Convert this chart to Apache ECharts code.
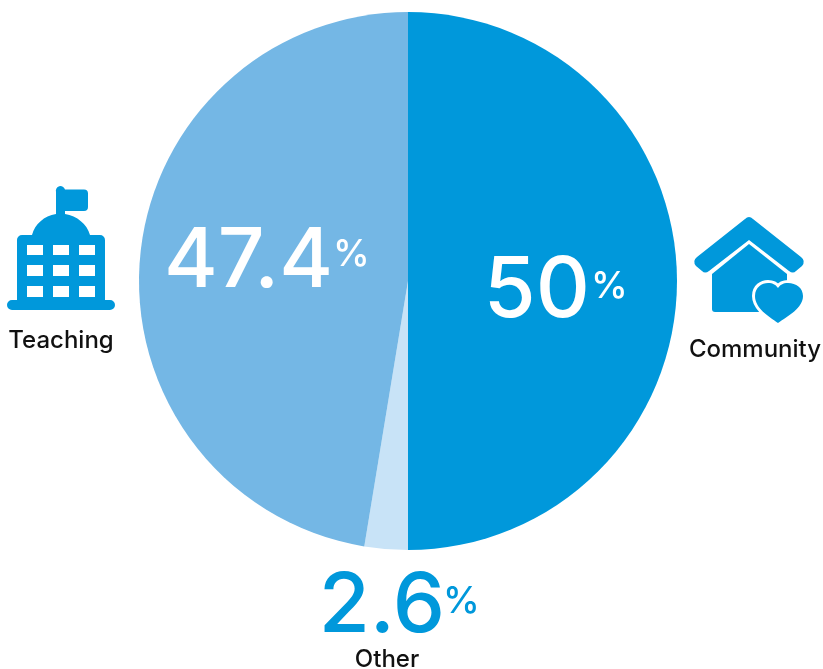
<!DOCTYPE html>
<html>
<head>
<meta charset="utf-8">
<style>html,body{margin:0;padding:0;background:#fff}#c{width:823px;height:669px}</style>
<script src="https://cdn.jsdelivr.net/npm/echarts@6/dist/echarts.min.js"></script>
</head>
<body>
<div id="c"></div>
<script>
// Share of time by activity
const categories = ['Community', 'Other', 'Teaching'];
const shares = [50, 2.6, 47.4];
const sliceColors = ['#0098db', '#c8e3f7', '#74b7e5'];
const BLUE = '#0098db';
const FONT = 'Inter, "Noto Sans", sans-serif';

// Percentage callouts: [category index, number right edge, vertical centre, colour, size, % x, % y]
const callouts = [
  [0, 590, 292, '#ffffff', 84, 591, 287],
  [2, 333, 262, '#ffffff', 82, 333, 255],
  [1, 445, 607, BLUE, 83, 443, 602]
];
// Category captions: [category index, centre x, centre y]
const captions = [[0, 755, 350], [2, 61, 341], [1, 387, 660]];

const buildingPath =
  'M7 305a5 5 0 0 1 5-5h5V240a5 5 0 0 1 5-5h10C35 224 44 216 56 214V192a4.500 4.500 0 0 1 9-2.500' +
  'H84a4 4 0 0 1 4 4V207a4 4 0 0 1-4 4H65v3C77 216 87 224 90 235h10a5 5 0 0 1 5 5v60h5a5 5 0 0 1 0 10H12a5 5 0 0 1-5-5Z' +
  'M27 245v10h16v-10ZM53 245v10h16v-10ZM79 245v10h16v-10Z' +
  'M27 265v11h16v-11ZM53 265v11h16v-11ZM79 265v11h16v-11Z' +
  'M27 286v11h16v-11ZM53 286v11h16v-11ZM79 286v11h16v-11Z';
const roofPath =
  'M749 217Q751 217 753 219L801 257Q806 261 802 266L796 271Q793 274 789 271L749 240L709 271Q705 274 702 271L696 266Q692 261 697 257L745 219Q747 217 749 217Z';
const housePath = 'M749 244L787 274V312H715Q712 312 712 309V274Z';
const heartPath =
  'M778 323C768 316 755 308 755 296C755 287 762 283 768 283C773 283 776 285 778 288C780 285 783 283 788 283C796 283 803 288 803 296C803 308 788 316 778 323Z';

const textEls = [];
callouts.forEach(([i, x, y, fill, size, px, py]) => {
  textEls.push({
    type: 'text', silent: true, z: 100,
    style: { text: String(shares[i]), x, y, fill, font: `500 ${size}px ${FONT}`,
      textAlign: 'right', textVerticalAlign: 'middle' }
  });
  textEls.push({
    type: 'text', silent: true, z: 100,
    style: { text: '%', x: px, y: py, fill, font: `500 37px ${FONT}`,
      textAlign: 'left', textVerticalAlign: 'middle' }
  });
});
captions.forEach(([i, x, y]) => {
  textEls.push({
    type: 'text', silent: true, z: 100,
    style: { text: categories[i], x, y, fill: '#111111', font: `500 24px ${FONT}`,
      textAlign: 'center', textVerticalAlign: 'middle' }
  });
});

// Pictograms beside the pie, drawn in page pixels
const iconChildren = [
  { type: 'path', shape: { pathData: buildingPath }, style: { fill: BLUE } },
  { type: 'path', shape: { pathData: housePath }, style: { fill: BLUE } },
  { type: 'path', shape: { pathData: roofPath }, style: { fill: BLUE } },
  { type: 'path', shape: { pathData: heartPath },
    style: { fill: '#ffffff', stroke: '#ffffff', lineWidth: 6 } },
  { type: 'path', shape: { pathData: heartPath }, style: { fill: BLUE } }
];

const chart = echarts.init(document.getElementById('c'), null, { renderer: 'canvas' });
chart.setOption({
  animation: false,
  series: [{
    type: 'pie',
    center: [408, 281],
    radius: [0, 269],
    startAngle: 90,
    clockwise: true,
    silent: true,
    label: { show: false },
    labelLine: { show: false },
    data: categories.map((name, i) => ({
      name, value: shares[i], itemStyle: { color: sliceColors[i] }
    }))
  }, {
    type: 'custom',
    coordinateSystem: 'none',
    silent: true,
    data: [0],
    renderItem: () => ({ type: 'group', children: iconChildren })
  }],
  graphic: { elements: textEls }
});
</script>
</body>
</html>
